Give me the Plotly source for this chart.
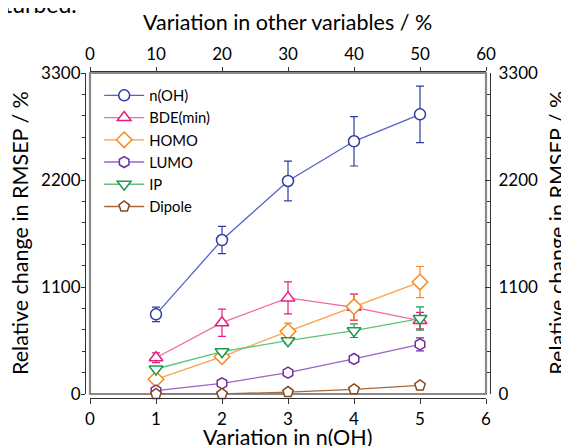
import plotly.graph_objects as go

x_vals = [1, 2, 3, 4, 5]
series_names = ["n(OH)", "BDE(min)", "HOMO", "LUMO", "IP", "Dipole"]
noh = [819, 1583, 2190, 2598, 2875]
noh_err = [75, 140, 205, 254, 290]
bde = [373, 733, 988, 891, 755]
bde_err = [50, 140, 165, 135, 85]
homo = [151, 384, 644, 898, 1151]
homo_err = [20, 35, 85, 135, 160]
lumo = [34, 110, 219, 360, 511]
lumo_err = [10, 15, 20, 30, 67]
ip = [257, 435, 548, 651, 776]
ip_err = [20, 25, 30, 70, 120]
dipole = [0, 0, 20, 48, 88]
dipole_err = [0, 0, 0, 0, 0]

x_ticks = [0, 1, 2, 3, 4, 5, 6]
top_ticks = [0, 10, 20, 30, 40, 50, 60]
y_ticks = [0, 1100, 2200, 3300]

x_title = "Variation in n(OH)"
top_title = "Variation in other variables / %"
y_title = "Relative change in RMSEP / %"

styles = [
    ("#2e3c9e", "#5563c2", "circle", 11),
    ("#e61e7d", "#f06aa3", "triangle-up", 12),
    ("#f68b1f", "#f9a24e", "diamond", 12),
    ("#7030a0", "#9b63c4", "hexagon", 11),
    ("#1e9a4a", "#5fc27c", "triangle-down", 12),
    ("#8b4a1c", "#a8683a", "pentagon", 11),
]
data = [(noh, noh_err), (bde, bde_err), (homo, homo_err), (lumo, lumo_err),
        (ip, ip_err), (dipole, dipole_err)]

fig = go.Figure()
for name, (vals, errs), (mc, lc, sym, msize) in zip(series_names, data, styles):
    fig.add_trace(go.Scatter(
        x=x_vals, y=vals, name=name, mode="lines+markers",
        line=dict(color=lc, width=1.3),
        marker=dict(symbol=sym, size=msize, color="white",
                    line=dict(color=mc, width=1.5)),
        error_y=dict(type="data", array=errs, visible=any(e > 0 for e in errs),
                     color=mc, thickness=1.2, width=4),
        cliponaxis=False,
    ))

# helper (invisible) trace so the secondary top/right axes are drawn
fig.add_trace(go.Scatter(x=[None], y=[None], xaxis="x2", yaxis="y2",
                         showlegend=False, hoverinfo="skip", mode="markers"))

FONT = "Lato, 'Open Sans', sans-serif"
axis_line = "#333333"
xdom = [5 / 405, 401 / 405]
ydom = [4 / 327, 325 / 327]
TITLE_SIZE = 21.5

common = dict(showline=True, linecolor=axis_line, linewidth=1.2, tickcolor=axis_line,
              showgrid=False, zeroline=False, automargin=False)

fig.update_layout(
    width=561, height=438,
    margin=dict(l=77, r=79, t=63, b=48, autoexpand=False),
    paper_bgcolor="white", plot_bgcolor="white",
    font=dict(family=FONT, size=17, color="black"),
    showlegend=True,
    legend=dict(x=0.035, y=0.975, xanchor="left", yanchor="top",
                bgcolor="rgba(0,0,0,0)", font=dict(size=14.8),
                itemwidth=40, tracegroupgap=0),
    xaxis=dict(domain=xdom, range=[0, 6], tickvals=x_ticks, anchor="free",
               position=0, ticks="outside", ticklen=5, **common),
    xaxis2=dict(domain=xdom, range=[0, 60], tickvals=top_ticks, overlaying="x",
                side="top", anchor="free", position=1, ticks="outside", ticklen=4,
                **common),
    yaxis=dict(domain=ydom, range=[0, 3300], tickvals=y_ticks, anchor="free",
               position=0, ticks="outside", ticklen=4, ticklabelstandoff=-3,
               minor=dict(dtick=220, ticks="outside", ticklen=3, tickcolor=axis_line),
               **common),
    yaxis2=dict(domain=ydom, range=[0, 3300], tickvals=y_ticks, overlaying="y",
                side="right", anchor="free", position=1, ticks="inside", ticklen=5,
                ticklabelstandoff=4,
                minor=dict(dtick=220, ticks="inside", ticklen=3, tickcolor=axis_line),
                **common),
    shapes=[dict(type="rect", xref="x domain", yref="y domain", x0=0, x1=1, y0=0, y1=1,
                 line=dict(color="#8a8a8a", width=2.2), layer="below")],
    annotations=[
        dict(text="turbed.", xref="paper", yref="paper", x=-0.205, y=1.155,
             xanchor="left", yanchor="bottom", showarrow=False,
             font=dict(size=23, color="black")),
        dict(text=x_title, xref="paper", yref="paper", x=0.501, y=-0.12,
             xanchor="center", yanchor="middle", showarrow=False,
             font=dict(size=TITLE_SIZE)),
        dict(text=top_title, xref="paper", yref="paper", x=0.501, y=1.15,
             xanchor="center", yanchor="middle", showarrow=False,
             font=dict(size=TITLE_SIZE)),
        dict(text=y_title, xref="paper", yref="paper", x=-0.160, y=0.505,
             xanchor="center", yanchor="middle", showarrow=False, textangle=-90,
             font=dict(size=TITLE_SIZE)),
        dict(text=y_title, xref="paper", yref="paper", x=1.165, y=0.505,
             xanchor="center", yanchor="middle", showarrow=False, textangle=-90,
             font=dict(size=TITLE_SIZE)),
    ],
)

fig.write_html("out.html")
